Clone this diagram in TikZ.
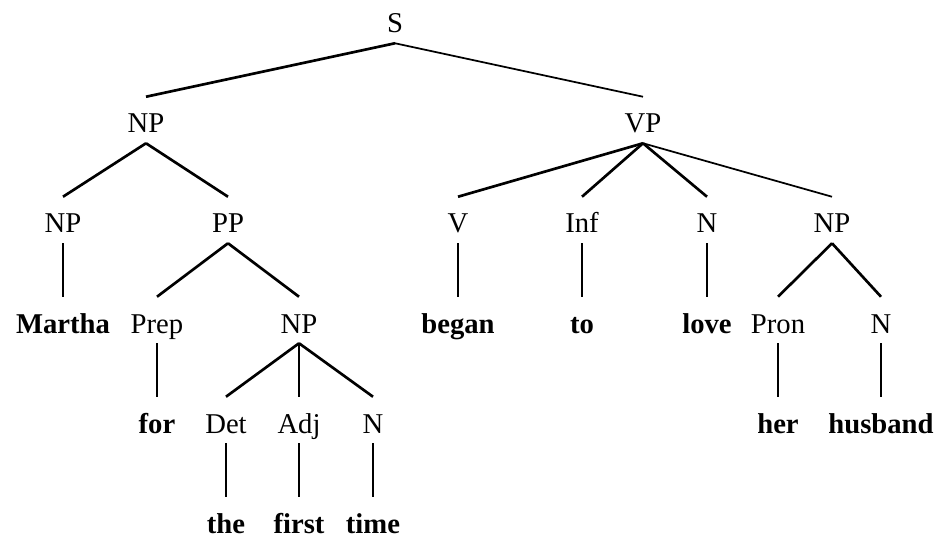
\documentclass[tikz,border=0pt]{standalone}
\usepackage{fontspec}
\setmainfont{Liberation Serif}
\tikzset{
  cat/.style    = {inner sep=0pt, anchor=base, text height=27pt, text depth=7.5pt,
                   font=\fontsize{21.5}{26}\selectfont},
  word/.style   = {cat, font=\fontsize{21.5}{26}\selectfont\bfseries},
  branch/.style = {line width=2pt},
  thinbranch/.style = {line width=1.3pt},
  stem/.style   = {line width=1.1pt},
}
\begin{document}
\begin{tikzpicture}[x=0.75pt, y=-0.75pt]
\useasboundingbox (0,0) rectangle (937,538);

% categories
\node[cat] (s)    at (395,33)  {S};
\node[cat] (np)   at (146,133) {NP};
\node[cat] (vp)   at (643,133) {VP};
\node[cat] (npa)  at (63,233)  {NP};
\node[cat] (pp)   at (228,233) {PP};
\node[cat] (v)    at (458,233) {V};
\node[cat] (inf)  at (582,233) {Inf};
\node[cat] (n)    at (707,233) {N};
\node[cat] (npb)  at (832,233) {NP};
\node[cat] (prep) at (157,333) {Prep};
\node[cat] (npc)  at (299,333) {NP};
\node[cat] (pron) at (778,333) {Pron};
\node[cat] (nb)   at (881,333) {N};
\node[cat] (det)  at (226,433) {Det};
\node[cat] (adj)  at (299,433) {Adj};
\node[cat] (nc)   at (373,433) {N};

% words
\node[word] (martha)  at (63,333)  {Martha};
\node[word] (began)   at (458,333) {began};
\node[word] (to)      at (582,333) {to};
\node[word] (love)    at (707,333) {love};
\node[word] (for)     at (157,433) {for};
\node[word] (her)     at (778,433) {her};
\node[word] (husband) at (881,433) {husband};
\node[word] (the)     at (226,533) {the};
\node[word] (first)   at (299,533) {first};
\node[word] (time)    at (373,533) {time};

% branches
\draw[branch]     (s.south) -- (np.north);
\draw[thinbranch] (s.south) -- (vp.north);
\draw[branch] (np.south) -- (npa.north);
\draw[branch] (np.south) -- (pp.north);
\draw[branch] (pp.south) -- (prep.north);
\draw[branch] (pp.south) -- (npc.north);
\draw[branch] (npc.south) -- (det.north);
\draw[stem]   (npc.south) -- (adj.north);
\draw[branch] (npc.south) -- (nc.north);
\draw[branch] (vp.south) -- (v.north);
\draw[branch] (vp.south) -- (inf.north);
\draw[branch] (vp.south) -- (n.north);
\draw[thinbranch] (vp.south) -- (npb.north);
\draw[branch] (npb.south) -- (pron.north);
\draw[branch] (npb.south) -- (nb.north);

% stems down to the words
\draw[stem] (npa.south) -- (martha.north);
\draw[stem] (prep.south) -- (for.north);
\draw[stem] (det.south) -- (the.north);
\draw[stem] (adj.south) -- (first.north);
\draw[stem] (nc.south) -- (time.north);
\draw[stem] (v.south) -- (began.north);
\draw[stem] (inf.south) -- (to.north);
\draw[stem] (n.south) -- (love.north);
\draw[stem] (pron.south) -- (her.north);
\draw[stem] (nb.south) -- (husband.north);
\end{tikzpicture}
\end{document}
